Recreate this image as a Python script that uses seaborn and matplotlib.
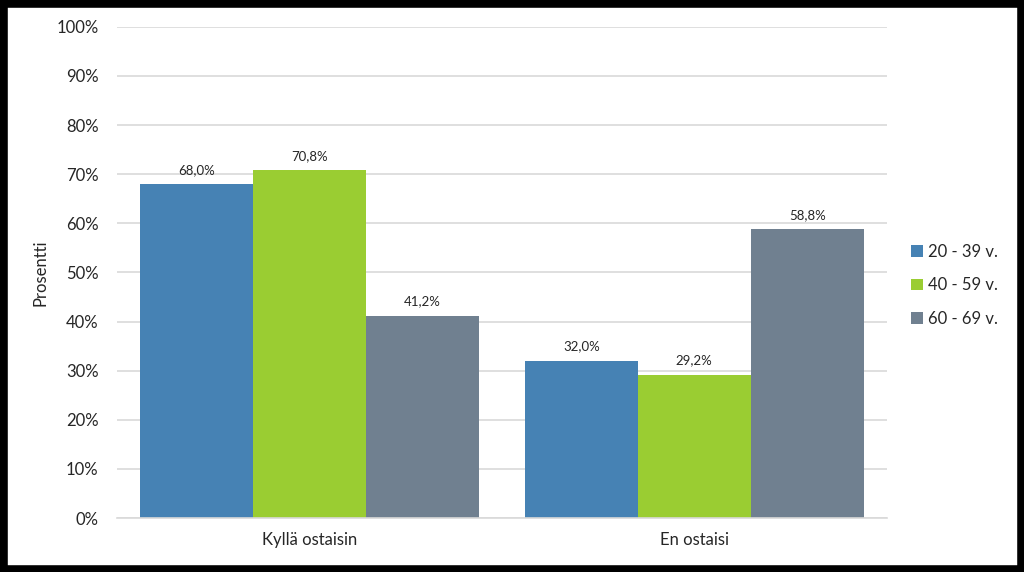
import matplotlib
matplotlib.use("Agg")
import matplotlib.pyplot as plt
from matplotlib.patches import Rectangle
import seaborn as sns
import pandas as pd

categories = ["Kyllä ostaisin", "En ostaisi"]
groups = ["20 - 39 v.", "40 - 59 v.", "60 - 69 v."]
values_20_39 = [68.0, 32.0]
values_40_59 = [70.8, 29.2]
values_60_69 = [41.2, 58.8]
colors = ["#4682B4", "#9ACD32", "#708090"]
y_ticks = [0, 10, 20, 30, 40, 50, 60, 70, 80, 90, 100]

rows = []
for g, vals in zip(groups, [values_20_39, values_40_59, values_60_69]):
    for c, v in zip(categories, vals):
        rows.append({"cat": c, "group": g, "val": v})
df = pd.DataFrame(rows)

sns.set_theme(style="white")
plt.rcParams["font.family"] = ["Lato", "DejaVu Sans"]

fig = plt.figure(figsize=(10.24, 5.72), dpi=100)
ax = fig.add_axes([0.114, 0.0944, 0.752, 0.8586])

sns.barplot(data=df, x="cat", y="val", hue="group", order=categories,
            hue_order=groups, palette=colors, width=0.88, saturation=1,
            linewidth=0, ax=ax, legend=True)

for cont in ax.containers:
    labels = [f"{b.get_height():.1f}%".replace(".", ",") for b in cont]
    ax.bar_label(cont, labels=labels, padding=6, fontsize=9.5, color="#262626")

ax.set_ylim(0, 100)
ax.set_yticks(y_ticks)
ax.set_yticklabels([f"{t}%" for t in y_ticks], fontsize=12, color="#262626")
ax.tick_params(axis="x", labelsize=12, colors="#262626", length=0, pad=10)
ax.tick_params(axis="y", length=0, pad=13)
ax.yaxis.grid(True, color="#d9d9d9", linewidth=1.2)
ax.set_axisbelow(True)
for s in ["top", "right", "left"]:
    ax.spines[s].set_visible(False)
ax.spines["bottom"].set_color("#d9d9d9")
ax.spines["bottom"].set_linewidth(1.2)
ax.set_xlabel("")
ax.set_ylabel("Prosentti", fontsize=12, color="#262626", labelpad=6)

handles, labs = ax.get_legend_handles_labels()
leg = ax.legend(handles, labs, loc="center left", bbox_to_anchor=(1.012, 0.474),
                frameon=False, fontsize=12, handlelength=0.7, handleheight=0.7,
                handletextpad=0.3, labelspacing=1.05)
for t in leg.get_texts():
    t.set_color("#262626")

fig.add_artist(Rectangle((0, 0), 1, 1, transform=fig.transFigure, fill=False,
                         edgecolor="black", linewidth=10.5))

fig.savefig("out.png", dpi=100, facecolor="white")
